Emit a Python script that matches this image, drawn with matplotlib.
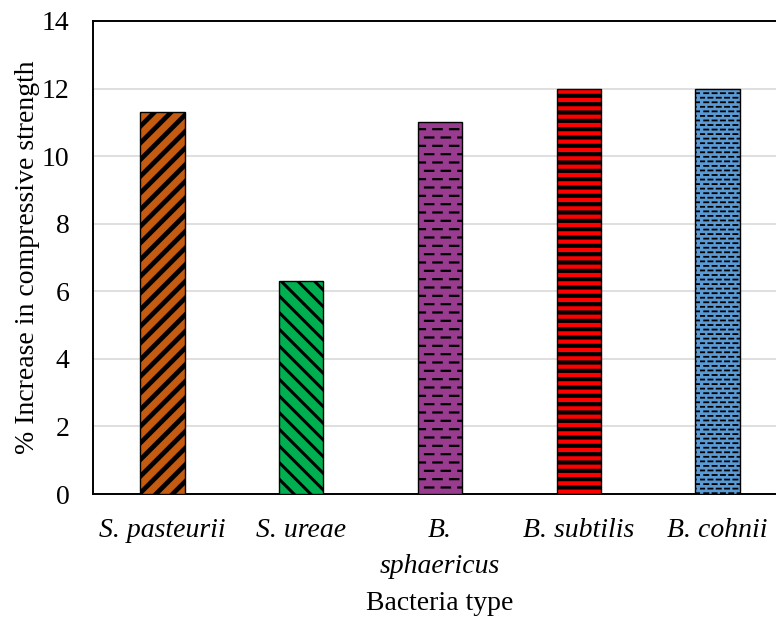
import warnings
import numpy as np
import matplotlib
matplotlib.use("Agg")
import matplotlib.pyplot as plt
import matplotlib.hatch as mhatch
from matplotlib.path import Path

bacteria = ["S. pasteurii", "S. ureae", "B.\nsphaericus", "B. subtilis", "B. cohnii"]
increase = [11.3, 6.3, 11.0, 12.0, 12.0]
fill_colors = ["#C55A11", "#00B050", "#993C8F", "#FF0000", "#5B9BD5"]
hatches = ["//", "\\\\", "d", "--", "e"]
hatch_widths = [3.4, 2.2, 1.6, 3.0, 1.3]
y_ticks = [0, 2, 4, 6, 8, 10, 12, 14]


# dashed-row hatch (brick style): 'd' = coarse dashes, 'e' = fine dashes
class DashRowHatch(mhatch.HatchPatternBase):
    def __init__(self, hatch, density):
        if "d" in hatch:
            self.rows, self.cols = 12, 6
        elif "e" in hatch:
            self.rows, self.cols = 22, 12
        else:
            self.rows, self.cols = 0, 0
        self.num_vertices = self.rows * self.cols * 2

    def set_vertices_and_codes(self, vertices, codes):
        k = 0
        for i in range(self.rows):
            y = (i + 0.5) / self.rows
            shift = (i % 2) * 0.5 / self.cols
            for j in range(self.cols):
                x0 = j / self.cols + shift
                vertices[k] = (x0, y)
                vertices[k + 1] = (x0 + 0.5 / self.cols, y)
                codes[k] = Path.MOVETO
                codes[k + 1] = Path.LINETO
                k += 2


mhatch._hatch_types.append(DashRowHatch)

plt.rcParams["font.family"] = ["Liberation Serif", "DejaVu Serif"]
plt.rcParams["font.size"] = 20

fig = plt.figure(figsize=(7.76, 6.18), dpi=100)
ax = fig.add_axes([93 / 776, 124 / 618, 694 / 776, 473 / 618])

x = np.arange(len(bacteria))
bars = ax.bar(x, increase, width=0.32, color=fill_colors, edgecolor="black",
              linewidth=1.0, zorder=3)
for bar, h, hw in zip(bars, hatches, hatch_widths):
    with warnings.catch_warnings():
        warnings.simplefilter("ignore")
        bar.set_hatch(h)
    if hasattr(bar, "set_hatch_linewidth"):
        bar.set_hatch_linewidth(hw)

ax.set_xlim(-0.5, len(bacteria) - 0.5)
ax.set_ylim(0, 14)
ax.set_yticks(y_ticks)
ax.set_xticks(x)
ax.set_xticklabels(bacteria, fontstyle="italic", linespacing=1.6, va="top")
ax.tick_params(axis="both", length=0)
ax.tick_params(axis="x", pad=17)
ax.tick_params(axis="y", pad=17)

ax.grid(axis="y", color="#D9D9D9", linewidth=1.2, zorder=0)
ax.set_axisbelow(True)
for side in ["left", "bottom", "top", "right"]:
    ax.spines[side].set_color("black")
    ax.spines[side].set_linewidth(1.4)

ax.set_ylabel("% Increase in compressive strength")
ax.set_xlabel("Bacteria type")
ax.yaxis.set_label_coords(-0.077, 0.5)
ax.xaxis.set_label_coords(0.5, -0.205)

fig.savefig("out.png", dpi=100)
